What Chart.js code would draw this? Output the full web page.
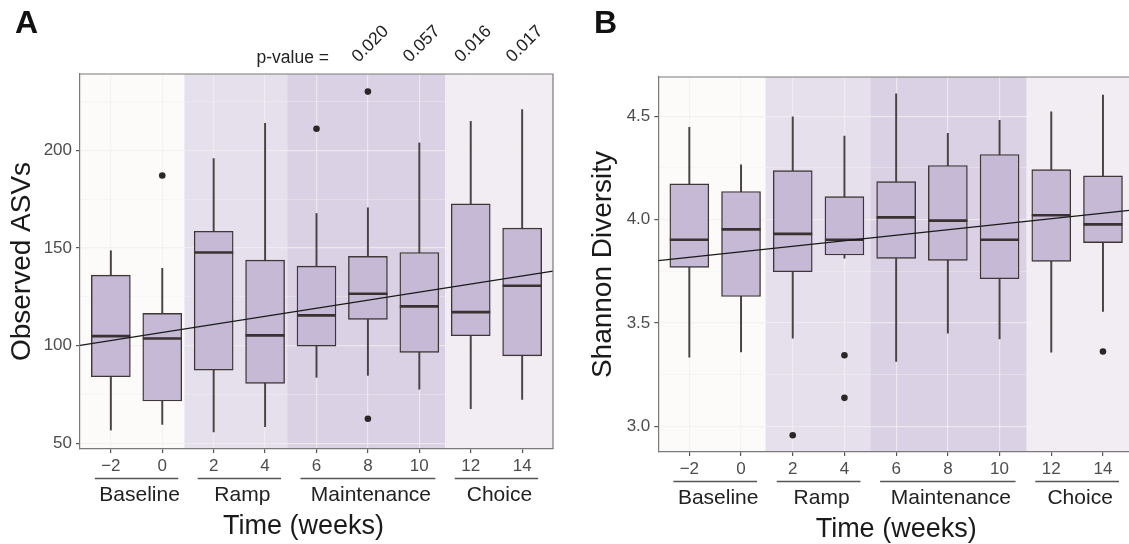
<!DOCTYPE html>
<html>
<head>
<meta charset="utf-8">
<script src="https://cdn.jsdelivr.net/npm/chart.js@4.4.1/dist/chart.umd.min.js"></script>
<style>
  html, body { margin: 0; padding: 0; background: #fff; overflow: hidden; }
  #wrap { position: relative; width: 1129px; height: 544px; overflow: hidden; }
  canvas { position: absolute; top: 0; }
  #asv { left: 0; }
  #shannon { left: 576px; }
</style>
</head>
<body>
<div id="wrap">
  <canvas id="asv" width="570" height="544"></canvas>
  <canvas id="shannon" width="560" height="544"></canvas>
</div>
<script>
// sampling weeks and study phases
const weeks = [-2, 0, 2, 4, 6, 8, 10, 12, 14];
const weekLabels = ['−2', '0', '2', '4', '6', '8', '10', '12', '14'];
const phaseNames = ['Baseline', 'Ramp', 'Maintenance', 'Choice'];
const phaseFirstWeek = [-2, 2, 6, 12];
const phaseLastWeek = [0, 4, 10, 14];

// Observed ASVs (boxplot stats per week)
const asvLow = [56.7, 59.6, 55.8, 58.4, 83.7, 84.7, 77.6, 67.6, 72.4];
const asvQ1 = [84, 71.6, 87.4, 80.6, 99.7, 113.4, 96.5, 105, 94.7];
const asvMedian = [104.8, 103.6, 147.6, 105.2, 115.4, 126.5, 120, 117.1, 130.6];
const asvQ3 = [136, 116.4, 158.5, 143.7, 140.6, 145.6, 147.6, 172.5, 160.1];
const asvHigh = [148.5, 139.5, 195.7, 213.7, 167.6, 170.5, 203.7, 214.8, 220.8];
const asvOutlierWeeks = [0, 6, 8, 8];
const asvOutliers = [187, 211, 230, 62.5];
const asvTicks = [50, 100, 150, 200];
const asvMinorTicks = [75, 125, 175, 225];
const asvFit = [106.7, 2.065]; // intercept, slope per week
const asvBandEdges = [0.86, 4.86, 11];
const pWeeks = [8, 10, 12, 14];
const pValues = ['0.020', '0.057', '0.016', '0.017'];

// Shannon diversity
const shLow = [3.335, 3.36, 3.427, 3.814, 3.314, 3.451, 3.423, 3.359, 3.556];
const shQ1 = [3.769, 3.628, 3.748, 3.829, 3.813, 3.803, 3.714, 3.798, 3.889];
const shMedian = [3.903, 3.953, 3.931, 3.903, 4.011, 3.995, 3.903, 4.021, 3.977];
const shQ3 = [4.173, 4.136, 4.237, 4.111, 4.184, 4.262, 4.315, 4.242, 4.212];
const shHigh = [4.447, 4.265, 4.497, 4.404, 4.609, 4.417, 4.48, 4.522, 4.602];
const shOutlierWeeks = [2, 4, 4, 14];
const shOutliers = [2.957, 3.344, 3.138, 3.362];
const shTicks = [3.0, 3.5, 4.0, 4.5];
const shMinorTicks = [3.25, 3.75, 4.25];
const shFit = [3.844, 0.01335];
const shBandEdges = [0.95, 5, 11.05];

const FONT = '"Liberation Sans", Arial, Helvetica, sans-serif';
Chart.defaults.font.family = FONT;

const bandColors = ['#fcfbf9', '#e6e0ed', '#dbd1e4', '#f2edf3'];
const gridColor = 'rgba(240,240,240,0.75)';
const frameColor = '#7a7a7a';
const X_MIN = -3.2, X_MAX = 15.2;

function makePanel(id, p) {
  const decor = {
    id: 'decor',
    beforeDraw(chart) {
      const { ctx, chartArea: a, scales: { x } } = chart;
      const edges = [a.left, ...p.bandEdges.map(v => x.getPixelForValue(v)), a.right];
      ctx.save();
      bandColors.forEach((c, i) => {
        ctx.fillStyle = c;
        ctx.fillRect(edges[i], a.top, edges[i + 1] - edges[i], a.bottom - a.top);
      });
      ctx.restore();
    },
    afterDatasetDraw(chart, args) {
      // median bars on top of the boxes
      if (args.index !== 2) return;
      const { ctx, scales: { y } } = chart;
      ctx.save();
      ctx.strokeStyle = '#3a3131';
      ctx.lineWidth = 2.6;
      args.meta.data.forEach((bar, i) => {
        const yy = y.getPixelForValue(p.median[i]);
        ctx.beginPath();
        ctx.moveTo(bar.x - bar.width / 2, yy);
        ctx.lineTo(bar.x + bar.width / 2, yy);
        ctx.stroke();
      });
      ctx.restore();
    },
    afterDraw(chart) {
      const { ctx, chartArea: a, scales: { x } } = chart;
      ctx.save();
      ctx.strokeStyle = frameColor;
      ctx.lineWidth = 1.2;
      ctx.beginPath();
      ctx.moveTo(a.left, a.top);
      ctx.lineTo(a.right, a.top);
      ctx.lineTo(a.right, a.bottom);
      ctx.stroke();

      // phase brackets under the week ticks
      ctx.strokeStyle = '#555';
      ctx.lineWidth = 1.4;
      ctx.fillStyle = '#222';
      ctx.font = '21px ' + FONT;
      ctx.textAlign = 'center';
      ctx.textBaseline = 'middle';
      phaseNames.forEach((name, i) => {
        const x0 = x.getPixelForValue(phaseFirstWeek[i]) - 16;
        const x1 = x.getPixelForValue(phaseLastWeek[i]) + 16;
        const yb = a.bottom + 29.5;
        ctx.beginPath();
        ctx.moveTo(x0, yb);
        ctx.lineTo(x1, yb);
        ctx.stroke();
        ctx.fillText(name, (x0 + x1) / 2 + 3, a.bottom + 46);
      });

      ctx.font = '27px ' + FONT;
      ctx.fillStyle = '#1a1a1a';
      ctx.fillText('Time (weeks)', (a.left + a.right) / 2 + p.titleShift, a.bottom + 78);

      ctx.font = 'bold 32px ' + FONT;
      ctx.fillStyle = '#111';
      ctx.textAlign = 'left';
      ctx.textBaseline = 'alphabetic';
      ctx.fillText(p.letter, p.letterX, 33);

      if (p.pValues) {
        ctx.font = '17.5px ' + FONT;
        ctx.fillStyle = '#222';
        ctx.fillText('p-value =', 256.5, 62.5);
        p.pWeeks.forEach((w, i) => {
          ctx.save();
          ctx.translate(x.getPixelForValue(w) - 9.5, 63);
          ctx.rotate(-Math.PI / 4);
          ctx.fillText(p.pValues[i], 0, 0);
          ctx.restore();
        });
      }
      ctx.restore();
    }
  };

  const gridValues = [...p.ticks, ...p.minor].sort((m, n) => m - n);
  const isMajor = v => p.ticks.indexOf(v) >= 0;

  return new Chart(document.getElementById(id), {
    type: 'bar',
    data: {
      datasets: [
        {
          type: 'line',
          data: [X_MIN, X_MAX].map(w => ({ x: w, y: p.fit[0] + p.fit[1] * w })),
          borderColor: '#1a1a1a',
          borderWidth: 1.3,
          pointRadius: 0
        },
        {
          type: 'scatter',
          data: p.outWeeks.map((w, i) => ({ x: w, y: p.outVals[i] })),
          backgroundColor: '#2d2626',
          borderWidth: 0,
          pointRadius: 3.3
        },
        {
          data: weeks.map((w, i) => ({ x: w, y: [p.q1[i], p.q3[i]] })),
          backgroundColor: '#c6b9d6',
          borderColor: '#3f3737',
          borderWidth: 1.4,
          borderSkipped: false,
          barThickness: 39,
          grouped: false
        },
        {
          data: weeks.map((w, i) => ({ x: w, y: [p.low[i], p.high[i]] })),
          backgroundColor: '#4b4343',
          borderWidth: 0,
          barThickness: 1.3,
          grouped: false
        }
      ]
    },
    options: {
      responsive: false,
      animation: false,
      events: [],
      layout: { autoPadding: false, padding: { top: p.top, right: p.right, left: 0, bottom: 0 } },
      plugins: { legend: { display: false }, tooltip: { enabled: false } },
      scales: {
        x: {
          type: 'linear',
          min: X_MIN,
          max: X_MAX,
          offset: false,
          afterBuildTicks(s) { s.ticks = weeks.map(v => ({ value: v })); },
          afterFit(s) { s.height = p.xHeight; },
          ticks: {
            autoSkip: false,
            maxRotation: 0,
            color: '#4d4d4d',
            font: { size: 17 },
            padding: 3,
            callback: v => weekLabels[weeks.indexOf(v)]
          },
          grid: { offset: false, color: gridColor, lineWidth: 1.2, tickLength: 4, tickColor: '#555' },
          border: { display: true, color: frameColor, width: 1.2 }
        },
        y: {
          type: 'linear',
          min: p.yMin,
          max: p.yMax,
          beginAtZero: false,
          afterBuildTicks(s) { s.ticks = gridValues.map(v => ({ value: v })); },
          afterFit(s) { s.width = p.yWidth; },
          ticks: {
            autoSkip: false,
            color: '#4d4d4d',
            font: { size: 17 },
            padding: 4,
            callback: v => { const i = p.ticks.indexOf(v); return i < 0 ? '' : p.tickLabels[i]; }
          },
          grid: {
            color: gridColor,
            lineWidth: c => (c.tick && isMajor(c.tick.value) ? 1.2 : 0.6),
            tickLength: 4,
            tickColor: c => (c.tick && isMajor(c.tick.value) ? '#555' : 'rgba(0,0,0,0)')
          },
          border: { display: true, color: frameColor, width: 1.2 },
          title: {
            display: true,
            text: p.yTitle,
            color: '#1a1a1a',
            font: { size: 28 },
            padding: { top: p.yTitlePad, bottom: 0 }
          }
        }
      }
    },
    plugins: [decor]
  });
}

makePanel('asv', {
  letter: 'A', letterX: 15,
  low: asvLow, q1: asvQ1, median: asvMedian, q3: asvQ3, high: asvHigh,
  outWeeks: asvOutlierWeeks, outVals: asvOutliers,
  ticks: asvTicks, tickLabels: asvTicks.map(String), minor: asvMinorTicks,
  yMin: 47, yMax: 239, fit: asvFit, bandEdges: asvBandEdges,
  yTitle: 'Observed ASVs', yTitlePad: 5,
  top: 74, right: 17, yWidth: 80, xHeight: 95, titleShift: -13,
  pWeeks: pWeeks, pValues: pValues
});

makePanel('shannon', {
  letter: 'B', letterX: 18,
  low: shLow, q1: shQ1, median: shMedian, q3: shQ3, high: shHigh,
  outWeeks: shOutlierWeeks, outVals: shOutliers,
  ticks: shTicks, tickLabels: shTicks.map(v => v.toFixed(1)), minor: shMinorTicks,
  yMin: 2.876, yMax: 4.69, fit: shFit, bandEdges: shBandEdges,
  yTitle: 'Shannon Diversity', yTitlePad: 10.5,
  top: 77, right: 2, yWidth: 82.3, xHeight: 92, titleShift: 0
});
</script>
</body>
</html>
